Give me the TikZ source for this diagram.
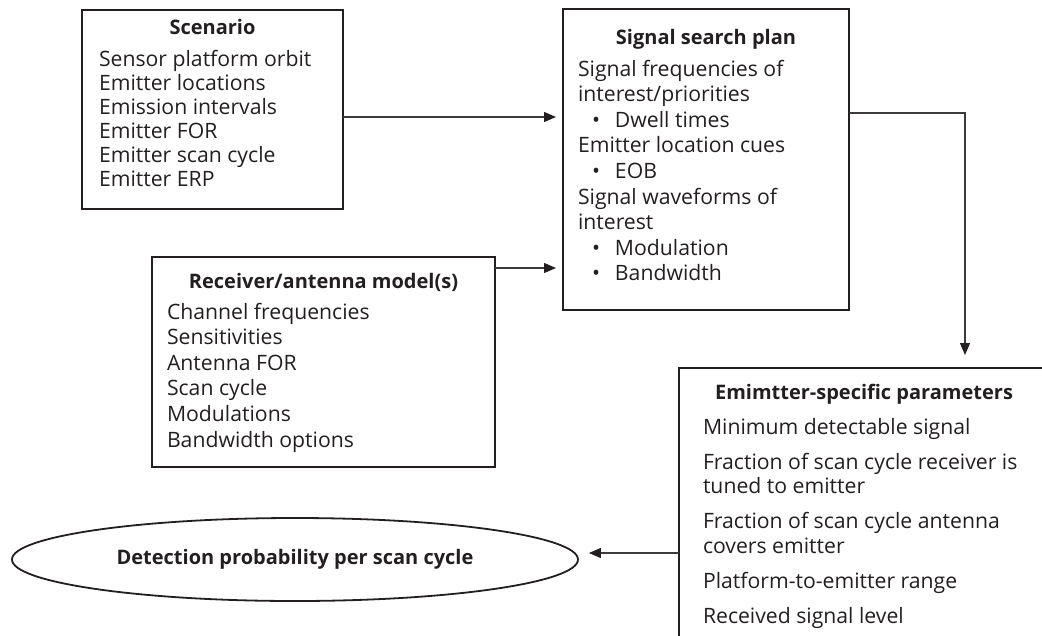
\documentclass[tikz,border=0pt]{standalone}
\usepackage{fontspec}
\setmainfont{Open Sans}
\usetikzlibrary{arrows.meta,shapes.geometric}
\definecolor{ink}{HTML}{231F20}
\definecolor{wire}{HTML}{3C3A3B}
\newcommand{\bx}[4]{\parbox[c][#2][t]{#1}{\leftskip=#3\rightskip=0pt plus 1fil\relax #4}}
\newcommand{\bul}{\hspace*{14pt}\makebox[23pt][l]{\textbullet}}
\newcommand{\ttl}[1]{{\fontsize{20}{24}\selectfont\bfseries #1}}
\begin{document}
\begin{tikzpicture}[x=1pt,y=-1pt,
  box/.style={draw=ink, line width=2.6pt, inner sep=0pt, outer sep=0pt, anchor=north west, text=ink},
  ell/.style={ellipse, draw=ink, line width=1.8pt, minimum width=566pt, minimum height=83pt, inner sep=0pt, text=ink},
  conn/.style={draw=wire, line width=1.2pt, -{Triangle[length=12pt,width=10pt,color=ink]}, shorten >=#1},
  conn/.default=7pt]
\useasboundingbox (0,0) rectangle (1042,635);
\clip (0,0) rectangle (1042,635);

\node[box] (scen) at (82,10) {\fontsize{21.2}{24}\selectfont\bx{261pt}{199pt}{17pt}{\rule{0pt}{24pt}\makebox[227pt][c]{\ttl{Scenario}}\\[8pt]
Sensor platform orbit\\ Emitter locations\\ Emission intervals\\ Emitter FOR\\ Emitter scan cycle\\ Emitter ERP}};

\node[box] (ssp) at (563,9) {\fontsize{21.2}{25.6}\selectfont\bx{286pt}{301pt}{15pt}{\rule{0pt}{35pt}\makebox[256pt][c]{\ttl{Signal search plan}}\\[6.4pt]
Signal frequencies of\\ interest/priorities\\ \bul Dwell times\\ Emitter location cues\\ \bul EOB\\ Signal waveforms of\\ interest\\ \bul Modulation\\ \bul Bandwidth}};

\node[box] (recv) at (152,257) {\fontsize{21.2}{25.6}\selectfont\bx{343pt}{210pt}{15pt}{\rule{0pt}{31pt}\makebox[313pt][c]{\ttl{Receiver/antenna model(s)}}\\[5.4pt]
Channel frequencies\\ Sensitivities\\ Antenna FOR\\ Scan cycle\\ Modulations\\ Bandwidth options}};

\node[box] (em) at (679,368) {\fontsize{21.2}{24.5}\selectfont\bx{420pt}{320pt}{24pt}{\rule{0pt}{31pt}\makebox[322pt][c]{\ttl{Emimtter-specific parameters}}\\[10.5pt]
Minimum detectable signal\\[10.5pt] Fraction of scan cycle receiver is\\ tuned to emitter\\[10.5pt] Fraction of scan cycle antenna\\ covers emitter\\[10.5pt] Platform-to-emitter range\\[10.5pt] Received signal level}};

\node[ell] (det) at (295,559.5) {\ttl{Detection probability per scan cycle}};

\coordinate (c1) at ([yshift=-7.5pt]scen.east);
\draw[conn] (c1) -- (c1 -| ssp.west);
\coordinate (c2) at ([yshift=-11pt]recv.north east);
\draw[conn] (c2) -- (c2 -| ssp.west);
\coordinate (c3) at ([yshift=-104pt]ssp.north east);
\coordinate (bend) at (965,113);
\draw[conn=13pt] (c3) -- (bend) -- (bend |- em.north);
\coordinate (c4) at ([yshift=-185pt]em.north west);
\draw[conn=10pt] (c4) -- (c4 -| det.east);
\end{tikzpicture}
\end{document}
